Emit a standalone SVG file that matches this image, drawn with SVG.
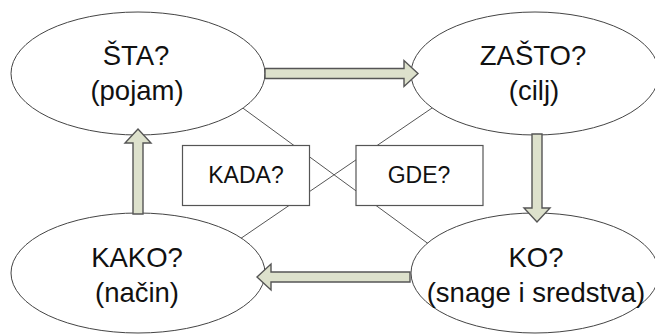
<svg xmlns="http://www.w3.org/2000/svg" width="655" height="334" viewBox="0 0 655 334">
  <style>
    .link { stroke: #555; stroke-width: 1; fill: none; }
    .oval { fill: #fff; stroke: #444; stroke-width: 1; }
    .box { fill: #fff; stroke: #555; stroke-width: 1.2; }
    .arrow { fill: #dde1cc; stroke: #555; stroke-width: 1.4; stroke-linejoin: miter; }
    .big { font-family: "Liberation Sans", Arial, sans-serif; font-size: 27.5px; fill: #111; text-anchor: middle; }
    .small { font-family: "Liberation Sans", Arial, sans-serif; font-size: 23px; fill: #111; text-anchor: middle; }
  </style>
  <rect width="655" height="334" fill="#fff"/>

  <!-- diagonal links between the question ovals -->
  <g id="connectors">
    <line class="link" x1="240" y1="106" x2="430" y2="245"/>
    <line class="link" x1="435" y1="106" x2="237" y2="241"/>
  </g>

  <g id="sta">
    <ellipse class="oval" cx="138" cy="73.5" rx="127" ry="61.5"/>
    <text class="big" x="136" y="65">ŠTA?</text>
    <text class="big" x="137" y="100">(pojam)</text>
  </g>

  <g id="zasto">
    <ellipse class="oval" cx="535" cy="73.5" rx="124" ry="61.5"/>
    <text class="big" x="533" y="65">ZAŠTO?</text>
    <text class="big" x="534" y="100">(cilj)</text>
  </g>

  <g id="kako">
    <ellipse class="oval" cx="138" cy="273" rx="127" ry="60"/>
    <text class="big" x="137" y="267">KAKO?</text>
    <text class="big" x="137" y="302">(način)</text>
  </g>

  <g id="ko">
    <ellipse class="oval" cx="535" cy="273" rx="124" ry="60"/>
    <text class="big" x="536" y="267">KO?</text>
    <text class="big" x="536" y="302">(snage i sredstva)</text>
  </g>

  <g id="kada">
    <rect class="box" x="182.5" y="145.5" width="127" height="60"/>
    <text class="small" x="246" y="183">KADA?</text>
  </g>

  <g id="gde">
    <rect class="box" x="356" y="145.5" width="127" height="60"/>
    <text class="small" x="419" y="183">GDE?</text>
  </g>

  <!-- block arrows of the cycle -->
  <g id="arrows">
    <polygon class="arrow" points="265,68.5 404,68.5 404,60.5 418,73.5 404,86.5 404,78.5 265,78.5"/>
    <polygon class="arrow" points="532,134 542,134 542,208 550,208 537,222 524,208 532,208"/>
    <polygon class="arrow" points="410,272 271,272 271,264 257,277 271,290 271,282 410,282"/>
    <polygon class="arrow" points="133,214 133,143 125,143 138,129 151,143 143,143 143,214"/>
  </g>
</svg>
